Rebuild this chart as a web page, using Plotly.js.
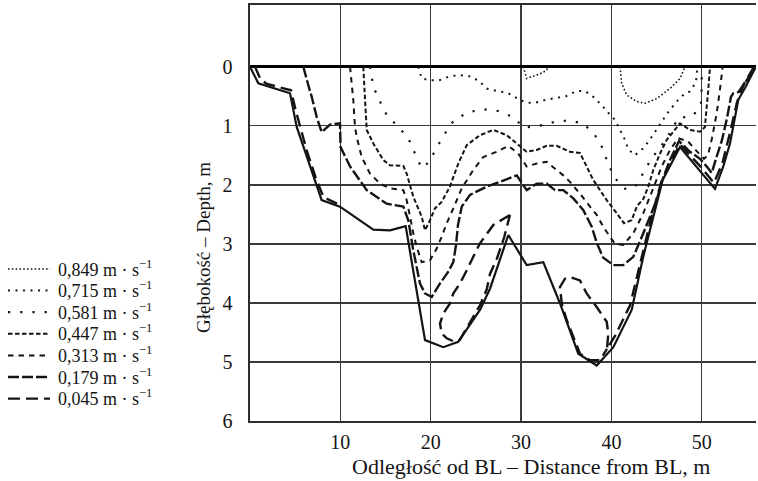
<!DOCTYPE html>
<html>
<head>
<meta charset="utf-8">
<script src="https://cdn.plot.ly/plotly-3.0.1.min.js"></script>
<style>
  html, body { margin: 0; padding: 0; background: #fff; }
  #chart { width: 758px; height: 481px; }
</style>
</head>
<body>
<div id="chart"></div>
<script>
// Velocity of each isovel, m·s^-1 (key order, fastest first)
const velocities = ['0,849', '0,715', '0,581', '0,447', '0,313', '0,179', '0,045'];

// River bed profile: distance from BL (m) and depth (m)
const bedX = [0, 0.92, 4.43, 5.17, 7.93, 9.96, 13.65, 15.49, 17.23, 19.37, 21.39, 23.05, 25.45, 26.56, 28.59, 30.62, 32.46, 34.31, 36.33, 38.37, 40.21, 42.24, 43.52, 45.67, 47.59, 51.46, 52.38, 53.12, 54.04, 54.78, 56];
const bedY = [0, 0.28, 0.45, 1.02, 2.26, 2.37, 2.76, 2.77, 2.70, 4.63, 4.75, 4.66, 4.12, 3.76, 2.85, 3.36, 3.31, 4.01, 4.86, 5.06, 4.75, 4.12, 3.22, 1.92, 1.36, 2.07, 1.69, 1.30, 0.56, 0.36, 0];

// Isovels (null splits separate pieces of one isovel)
const iso849X = [30.25, 30.62, 31.36, 32.09, 32.84, 32.98, null, 40.95, 41.13, 41.69, 42.80, 43.71, 45.01, 46.48, 47.59, 48.14];
const iso849Y = [0, 0.20, 0.16, 0.12, 0.06, 0, null, 0, 0.28, 0.48, 0.59, 0.62, 0.54, 0.37, 0.20, 0];

const iso715X = [18.63, 19.00, 19.92, 20.95, 21.95, 23.13, 24.27, 25.34, 26.20, 27.30, 28.48, 29.52, 30.54, 31.57, 32.72, 33.86, 34.97, 36.16, 37.07, 37.99, 38.92, 39.65, 40.39, 40.95, 41.50, 41.87, 42.61, 43.53, 44.27, 44.93, 45.56, 46.29, 47.22, 48.14, 48.69, 49.36, 49.51];
const iso715Y = [0, 0.20, 0.23, 0.23, 0.17, 0.14, 0.16, 0.24, 0.37, 0.41, 0.44, 0.53, 0.61, 0.61, 0.56, 0.53, 0.50, 0.41, 0.41, 0.51, 0.65, 0.78, 0.90, 1.07, 1.24, 1.40, 1.50, 1.38, 1.23, 1.08, 0.93, 0.77, 0.59, 0.45, 0.42, 0.26, 0];

const iso581X = [13.28, 13.65, 14.39, 15.13, 16.41, 17.52, 18.26, 19.00, 19.84, 20.66, 21.50, 22.47, 23.98, 25.71, 27.48, 29.07, 30.32, 31.79, 33.57, 35.22, 36.89, 38.18, 39.03, 39.62, 40.40, 41.61, 42.72, 43.60, 44.46, 45.38, 46.29, 47.40, 49.06, 49.91, 49.99, 49.99];
const iso581Y = [0, 0.34, 0.59, 0.82, 1.02, 1.21, 1.47, 1.72, 1.61, 1.37, 1.15, 0.93, 0.78, 0.72, 0.75, 0.85, 1.03, 1.01, 0.94, 0.91, 0.96, 1.16, 1.38, 1.64, 1.89, 2.08, 2.01, 1.78, 1.55, 1.37, 1.17, 0.87, 0.83, 0.62, 0.36, 0];

const iso447X = [12.54, 12.73, 12.92, 13.65, 14.75, 15.49, 16.97, 17.34, 18.07, 19.00, 19.37, 19.92, 20.47, 21.21, 22.13, 23.05, 23.98, 25.45, 26.93, 28.41, 29.52, 30.62, 31.73, 32.84, 33.94, 35.41, 36.52, 37.26, 37.99, 38.73, 39.48, 40.58, 41.39, 42.24, 42.83, 43.53, 44.08, 44.63, 45.38, 46.11, 46.85, 47.59, 48.69, 49.80, 50.35, 50.54, 50.72, 50.91];
const iso447Y = [0, 0.56, 1.07, 1.30, 1.58, 1.67, 1.68, 1.81, 2.20, 2.54, 2.77, 2.60, 2.40, 2.29, 2.03, 1.64, 1.33, 1.16, 1.07, 1.16, 1.30, 1.44, 1.41, 1.34, 1.34, 1.44, 1.46, 1.69, 1.92, 2.09, 2.26, 2.48, 2.65, 2.60, 2.36, 2.24, 2.03, 1.75, 1.47, 1.24, 1.10, 0.96, 1.07, 1.10, 1.02, 0.68, 0.39, 0];

const iso313X = [11.07, 11.43, 11.62, 11.81, 12.36, 13.28, 14.39, 15.49, 16.97, 17.34, 17.71, 18.07, 18.45, 19.00, 19.92, 20.66, 21.21, 21.77, 22.50, 23.43, 24.71, 25.82, 27.30, 28.59, 29.69, 30.62, 31.73, 32.84, 33.94, 34.67, 35.41, 36.52, 37.63, 38.37, 39.10, 39.84, 40.40, 41.31, 42.42, 43.53, 44.63, 45.56, 46.48, 47.40, 48.51, 49.44, 50.24, 50.69, 51.13, 51.65, 52.01, 52.31];
const iso313Y = [0, 0.56, 1.02, 1.19, 1.53, 1.81, 1.98, 2.06, 2.09, 2.26, 2.54, 2.82, 3.05, 3.31, 3.28, 3.08, 2.88, 2.65, 2.40, 2.06, 1.75, 1.53, 1.44, 1.34, 1.47, 1.69, 1.64, 1.61, 1.75, 1.84, 1.95, 2.15, 2.37, 2.51, 2.71, 2.88, 3.00, 3.02, 2.82, 2.48, 2.06, 1.69, 1.41, 1.21, 1.27, 1.43, 1.56, 1.50, 1.21, 0.79, 0.39, 0];

const iso179X = [5.90, 6.45, 6.83, 7.38, 7.93, 8.85, 9.96, 10.02, 11.07, 12.92, 15.13, 16.97, 17.52, 18.07, 18.81, 19.37, 20.11, 21.03, 21.91, 22.50, 22.80, 23.02, 23.43, 24.35, 26.20, 27.67, 29.52, 30.62, 31.73, 32.84, 33.75, 34.67, 35.78, 36.89, 37.82, 38.40, 39.07, 40.21, 41.31, 42.42, 43.53, 44.27, 45.01, 45.56, 46.48, 47.48, 48.69, 49.80, 50.60, 51.10, 51.69, 52.24, 52.79, 53.23, 53.49, 54.04, 54.97, 56];
const iso179Y = [0, 0.31, 0.51, 0.85, 1.11, 0.98, 0.96, 1.36, 1.69, 2.09, 2.32, 2.37, 2.60, 3.11, 3.67, 3.84, 3.90, 3.67, 3.48, 3.31, 3.02, 2.68, 2.37, 2.17, 2.03, 1.95, 1.84, 2.09, 1.98, 1.98, 2.09, 2.09, 2.23, 2.43, 2.71, 2.99, 3.23, 3.36, 3.36, 3.22, 2.82, 2.54, 2.26, 1.95, 1.58, 1.26, 1.44, 1.56, 1.70, 1.80, 1.50, 1.24, 0.87, 0.51, 0.45, 0.43, 0.23, 0];

const iso045X = [0.55, 1.22, 1.88, 3.32, 4.54, 5.04, 6.30, 7.25, 8.13, 9.63, null,
  28.77, 26.93, 25.45, 24.71, 23.98, 23.24, 22.50, 22.13, 21.39, 21.03, 21.22, 21.77, 22.69, 23.24, 24.35, 25.45, 26.20, 26.56, 27.30, 28.11, 28.77, null,
  55.79, 54.67, 53.90, 53.12, 52.29, 51.35, 49.80, 48.69, 47.59, 46.48, 45.48, 44.49, 43.27, 42.06, 40.40, 39.51, 39.65, 39.48, 38.37, 37.26, 36.52, 35.41, 34.86, 34.31, 34.50, 35.05, 35.85, 36.52, 37.63, 38.73, 39.51];
const iso045Y = [0, 0.23, 0.29, 0.35, 0.40, 0.73, 1.43, 1.87, 2.21, 2.32, null,
  2.51, 2.68, 2.99, 3.22, 3.45, 3.67, 3.84, 4.01, 4.18, 4.35, 4.52, 4.60, 4.66, 4.62, 4.33, 4.04, 3.77, 3.51, 3.26, 2.90, 2.51, null,
  0, 0.29, 0.60, 1.12, 1.63, 1.97, 1.68, 1.50, 1.31, 1.63, 1.97, 2.51, 3.28, 4.04, 4.56, 4.78, 4.52, 4.32, 4.07, 3.84, 3.62, 3.56, 3.59, 3.73, 4.01, 4.29, 4.60, 4.86, 4.97, 4.97, 4.78];

const xTicks = [10, 20, 30, 40, 50];
const yTicks = [0, 1, 2, 3, 4, 5, 6];

// Line styles of the isovels, same order as velocities
const isoStyles = [
  { dash: '1.6px,2.2px', width: 1.6 },
  { dash: '2px,5.5px', width: 2 },
  { dash: '2.2px,10px', width: 2.2 },
  { dash: '4.5px,2.5px', width: 2 },
  { dash: '5.5px,5px', width: 2 },
  { dash: '11px,3px', width: 2.4 },
  { dash: '12px,6px', width: 2.4 }
];

const isoX = [iso849X, iso715X, iso581X, iso447X, iso313X, iso179X, iso045X];
const isoY = [iso849Y, iso715Y, iso581Y, iso447Y, iso313Y, iso179Y, iso045Y];

const ink = '#141414';
const serif = 'Liberation Serif, Times New Roman, serif';

const traces = velocities.map((v, i) => ({
  type: 'scatter',
  mode: 'lines',
  name: v + ' m · s<sup>−1</sup>',
  x: isoX[i],
  y: isoY[i],
  connectgaps: false,
  line: { color: ink, width: isoStyles[i].width, dash: isoStyles[i].dash, simplify: false },
  hoverinfo: 'skip'
}));

traces.push({
  type: 'scatter',
  mode: 'lines',
  name: 'bed',
  x: bedX,
  y: bedY,
  line: { color: ink, width: 2.2, simplify: false },
  hoverinfo: 'skip'
});

// Plot frame in page pixels, used to place the key and titles
const frame = { left: 250, right: 756, top: 5, bottom: 421 };
const px = p => (p - frame.left) / (frame.right - frame.left);
const py = p => (frame.bottom - p) / (frame.bottom - frame.top);

const keyShapes = [];
const keyLabels = [];
velocities.forEach((v, i) => {
  const yc = 268 + i * 21.6;
  keyShapes.push({
    type: 'line', xref: 'paper', yref: 'paper',
    x0: px(8), x1: px(50), y0: py(yc + 1), y1: py(yc + 1),
    line: { color: ink, width: isoStyles[i].width, dash: isoStyles[i].dash }
  });
  keyLabels.push({
    xref: 'paper', yref: 'paper', x: px(56), y: py(yc),
    xanchor: 'left', yanchor: 'middle', showarrow: false,
    text: v + ' m · s<sup>−1</sup>',
    font: { family: serif, size: 18, color: ink }
  });
});

const layout = {
  width: 758,
  height: 481,
  margin: { l: 250, r: 2, t: 5, b: 60, pad: 0 },
  paper_bgcolor: '#ffffff',
  plot_bgcolor: '#ffffff',
  showlegend: false,
  font: { family: serif, size: 20, color: ink },
  xaxis: {
    range: [0, 56],
    autorange: false,
    tickmode: 'array',
    tickvals: xTicks,
    ticks: '',
    ticklabelstandoff: 2,
    tickfont: { family: serif, size: 20, color: ink },
    showgrid: true,
    gridcolor: '#3a3a3a',
    gridwidth: 1.4,
    zeroline: false,
    showline: true,
    linecolor: '#2e2e2e',
    linewidth: 1.6,
    mirror: true,
    fixedrange: true
  },
  yaxis: {
    range: [6, -1.045],
    autorange: false,
    tickmode: 'array',
    tickvals: yTicks,
    ticks: '',
    ticklabelstandoff: 12,
    tickfont: { family: serif, size: 20, color: ink },
    showgrid: true,
    gridcolor: '#3a3a3a',
    gridwidth: 1.4,
    zeroline: true,
    zerolinecolor: '#000000',
    zerolinewidth: 2.6,
    showline: true,
    linecolor: '#2e2e2e',
    linewidth: 1.6,
    mirror: false,
    fixedrange: true
  },
  shapes: keyShapes,
  annotations: keyLabels.concat([
    {
      xref: 'paper', yref: 'paper', x: px(531), y: py(466),
      xanchor: 'center', yanchor: 'middle', showarrow: false,
      text: 'Odległość od BL – Distance from BL, m',
      font: { family: serif, size: 22, color: ink }
    },
    {
      xref: 'paper', yref: 'paper', x: px(203), y: py(248),
      xanchor: 'center', yanchor: 'middle', showarrow: false, textangle: -90,
      text: 'Głębokość – Depth, m',
      font: { family: serif, size: 19, color: ink }
    }
  ])
};

Plotly.newPlot('chart', traces, layout, { staticPlot: true, displayModeBar: false });
</script>
</body>
</html>
